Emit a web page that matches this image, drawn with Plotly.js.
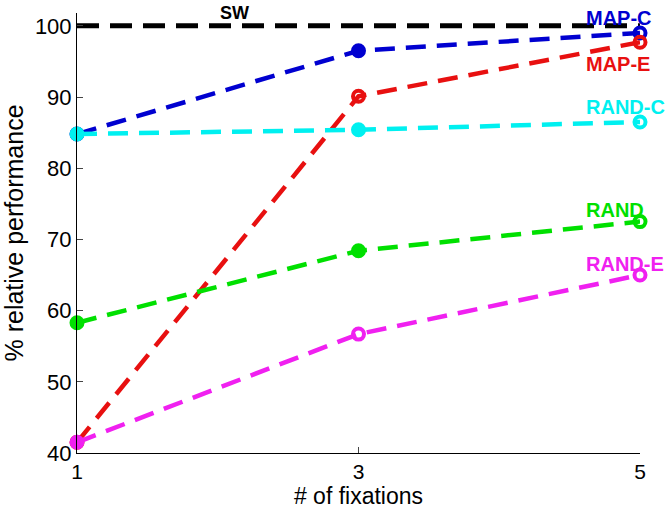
<!DOCTYPE html>
<html>
<head>
<meta charset="utf-8">
<script src="https://cdn.plot.ly/plotly-3.0.1.min.js"></script>
<style>
  html, body { margin: 0; padding: 0; background: #fff; }
  #chart { width: 666px; height: 509px; }
</style>
</head>
<body>
<div id="chart"></div>
<script>
// number of fixations
var fixations = [1, 3, 5];

// % relative performance per method
var sw = [100, 100, 100];
var mapC = [84.8, 96.5, 99.0];
var mapE = [41.5, 90.1, 97.7];
var randC = [84.8, 85.4, 86.5];
var rand = [58.3, 68.4, 72.5];
var randE = [41.5, 56.7, 65.0];

var names = ["MAP-C", "MAP-E", "RAND-C", "RAND", "RAND-E"];
var colors = ["#0000d0", "#e81010", "#00f0f0", "#00e000", "#f020f0"];
var series = [mapC, mapE, randC, rand, randE];

// where the method names sit (left edge, centre)
var labelX = [4.6, 4.6, 4.6, 4.6, 4.6];
var labelY = [101.1, 94.6, 88.6, 74.1, 66.5];

var filled = ["circle", "circle", "circle-open"];
var open = ["circle", "circle-open", "circle-open"];
var symbols = [filled, open, filled, filled, open];

var traces = [{
    x: fixations, y: sw, type: "scatter", mode: "lines",
    line: { color: "black", width: 5, dash: "22px,11px" },
    cliponaxis: false, showlegend: false
}];

series.forEach(function (s, i) {
    traces.push({
        x: fixations, y: s, type: "scatter", mode: "lines+markers",
        name: names[i],
        line: { color: colors[i], width: 4.5, dash: "20px,11px" },
        marker: { color: colors[i], size: 11, symbol: symbols[i], line: { color: colors[i], width: 4 } },
        cliponaxis: false, showlegend: false
    });
});

var annotations = [{
    x: 2.0, y: 101.8, xanchor: "left", text: "<b>SW</b>", showarrow: false,
    font: { family: "Liberation Sans, Arial", size: 18, color: "black" }
}];
names.forEach(function (n, i) {
    annotations.push({
        x: labelX[i], y: labelY[i], xanchor: "left", text: "<b>" + n + "</b>", showarrow: false,
        font: { family: "Liberation Sans, Arial", size: 20, color: colors[i] }
    });
});

var layout = {
    width: 666, height: 509,
    margin: { l: 77, r: 26, t: 13, b: 56 },
    paper_bgcolor: "white", plot_bgcolor: "white",
    font: { family: "Liberation Sans, Arial", color: "black" },
    xaxis: {
        range: [1, 5], tickvals: [1, 3, 5], ticks: "inside", ticklen: 6,
        showline: true, linecolor: "black", linewidth: 1, showgrid: false, zeroline: false,
        tickfont: { size: 21 },
        title: { text: "# of fixations", font: { size: 23 }, standoff: 0 }
    },
    yaxis: {
        range: [40, 101.8], tickvals: [40, 50, 60, 70, 80, 90, 100], ticks: "inside", ticklen: 6,
        showline: true, linecolor: "black", linewidth: 1, showgrid: false, zeroline: false,
        tickfont: { size: 22 },
        title: { text: "% relative performance", font: { size: 25 }, standoff: 4 }
    },
    annotations: annotations
};

var config = { displayModeBar: false, staticPlot: true };

Plotly.newPlot("chart", traces, layout, config);
</script>
</body>
</html>
